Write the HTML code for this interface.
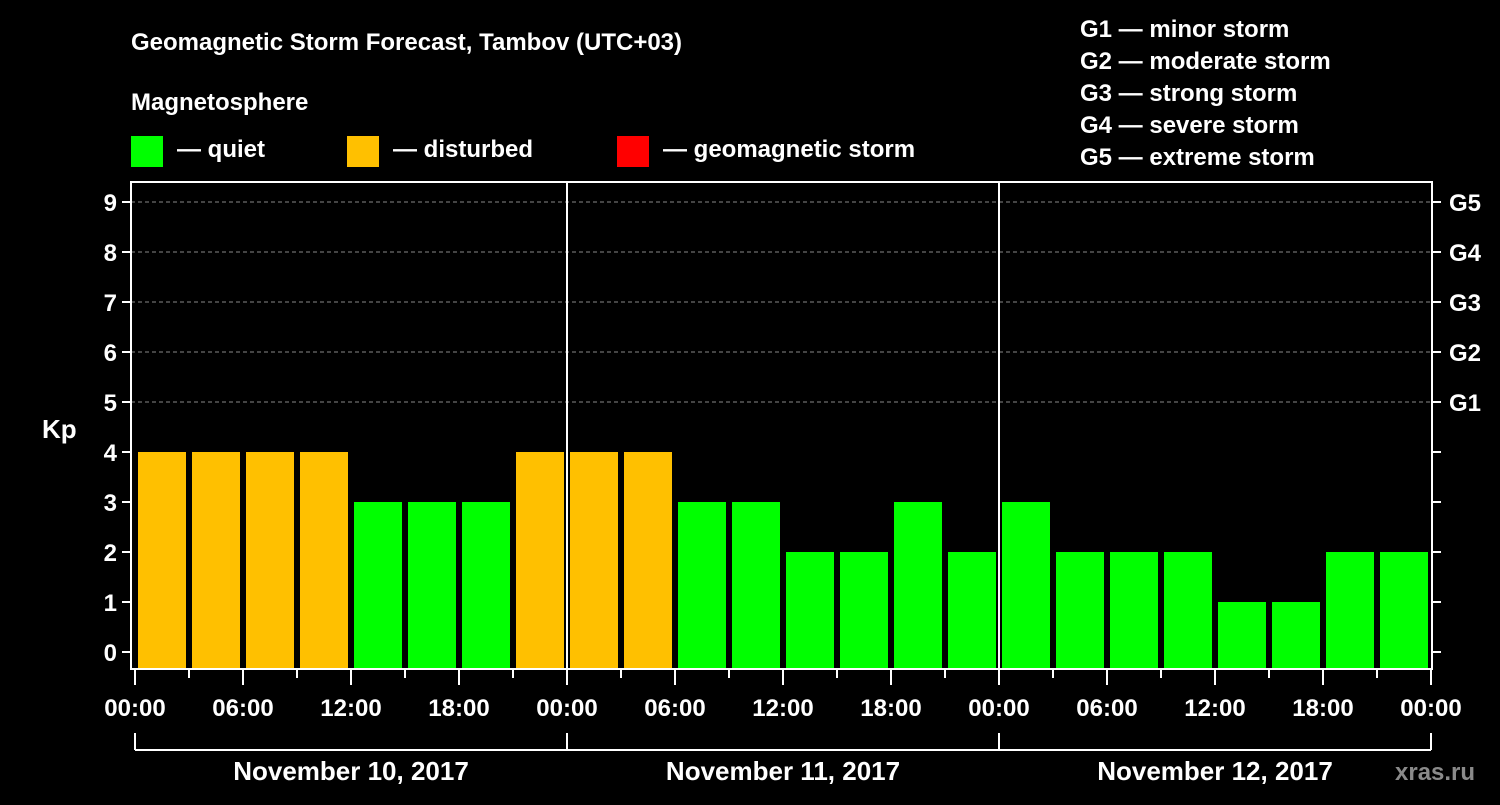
<!DOCTYPE html>
<html><head><meta charset="utf-8"><style>
body{margin:0;background:#000;}
svg text{font-family:"Liberation Sans",sans-serif;font-weight:bold;fill:#fff;}
</style></head><body>
<svg id="chart" width="1500" height="800" viewBox="0 0 1500 800" xmlns="http://www.w3.org/2000/svg">
<rect width="1500" height="800" fill="#000"/>
<text x="131" y="50" font-size="24">Geomagnetic Storm Forecast, Tambov (UTC+03)</text>
<text x="131" y="110" font-size="24">Magnetosphere</text>
<g><rect x="131" y="136" width="32" height="31" fill="#00ff00"/><text x="177" y="157" font-size="24">— quiet</text></g>
<g><rect x="347" y="136" width="32" height="31" fill="#ffc000"/><text x="393" y="157" font-size="24">— disturbed</text></g>
<g><rect x="617" y="136" width="32" height="31" fill="#ff0000"/><text x="663" y="157" font-size="24">— geomagnetic storm</text></g>
<g font-size="24">
<text x="1080" y="37">G1 — minor storm</text>
<text x="1080" y="69">G2 — moderate storm</text>
<text x="1080" y="101">G3 — strong storm</text>
<text x="1080" y="133">G4 — severe storm</text>
<text x="1080" y="165">G5 — extreme storm</text>
</g>
<text x="42" y="438" font-size="26">Kp</text>
<text x="1395" y="780" font-size="24" fill="#888" style="fill:#8a8a8a">xras.ru</text>
<g id="grid"></g><g id="bars"></g><g id="axes"></g>
</svg>
<script>
const kpValues=[4,4,4,4,3,3,3,4, 4,4,3,3,2,2,3,2, 3,2,2,2,1,1,2,2];
const dayLabels=["November 10, 2017","November 11, 2017","November 12, 2017"];
const hourLabels=["00:00","06:00","12:00","18:00"];
const yTicks=[0,1,2,3,4,5,6,7,8,9];
const gLabels=["G1","G2","G3","G4","G5"];
const X0=135,DAYW=432,SLOT=54,PL=131,PR=1432,PT=182,PB=669;
const y=v=>652-v*50;
const xs=i=>X0+i*SLOT;
const NS="http://www.w3.org/2000/svg";
function mk(p,t,a){const e=document.createElementNS(NS,t);for(const k in a)e.setAttribute(k,a[k]);p.appendChild(e);return e;}
const grid=document.getElementById('grid'),bars=document.getElementById('bars'),axes=document.getElementById('axes');
yTicks.forEach(v=>{if(v>=5){const l=mk(grid,'line',{x1:PL,x2:PR,y1:y(v),y2:y(v),stroke:'#888','stroke-dasharray':'4,3','stroke-width':1});

}
mk(axes,'line',{x1:PL-9,x2:PL,y1:y(v),y2:y(v),stroke:'#fff','stroke-width':2});
mk(axes,'line',{x1:PR,x2:PR+9,y1:y(v),y2:y(v),stroke:'#fff','stroke-width':2});
const t=mk(axes,'text',{x:PL-14,y:y(v)+9,'font-size':24,'text-anchor':'end'});t.textContent=v;


if(v>=5){const g=mk(axes,'text',{x:1449,y:y(v)+9,'font-size':24});g.textContent=gLabels[v-5];

}});
kpValues.forEach((v,i)=>{const c=v>=5?'#ff0000':v>=4?'#ffc000':'#00ff00';
const r=mk(bars,'rect',{x:xs(i)+3,y:y(v),width:48,height:PB-1-y(v),fill:c});

});
mk(axes,'rect',{x:PL,y:PT,width:PR-PL,height:PB-PT,fill:'none',stroke:'#fff','stroke-width':2});
for(let d=1;d<3;d++)mk(axes,'line',{x1:X0+d*DAYW,x2:X0+d*DAYW,y1:PT,y2:PB,stroke:'#fff','stroke-width':2});
for(let i=0;i<=24;i++){const x=xs(i),maj=i%2==0;mk(axes,'line',{x1:x,x2:x,y1:PB,y2:maj?685:678,stroke:'#fff','stroke-width':2});
if(maj){const t=mk(axes,'text',{x:x,y:716,'font-size':24,'text-anchor':'middle'});t.textContent=hourLabels[(i/2)%4];

}}
mk(axes,'line',{x1:X0,x2:X0+3*DAYW,y1:750,y2:750,stroke:'#fff','stroke-width':2});
for(let d=0;d<=3;d++)mk(axes,'line',{x1:X0+d*DAYW,x2:X0+d*DAYW,y1:733,y2:750,stroke:'#fff','stroke-width':2});
dayLabels.forEach((s,d)=>{const t=mk(axes,'text',{x:X0+d*DAYW+DAYW/2,y:780,'font-size':26,'text-anchor':'middle'});t.textContent=s;

});
</script>
</body></html>
